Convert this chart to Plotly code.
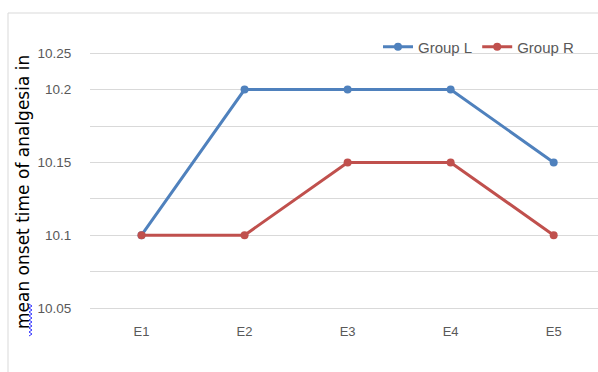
import plotly.graph_objects as go

categories = ["E1", "E2", "E3", "E4", "E5"]
group_l = [10.1, 10.2, 10.2, 10.2, 10.15]
group_r = [10.1, 10.1, 10.15, 10.15, 10.1]
grid_vals = [10.05, 10.075, 10.1, 10.125, 10.15, 10.175, 10.2, 10.225]
grid_text = ["10.05", "", "10.1", "", "10.15", "", "10.2", "10.25"]

W, H = 598, 372
L, R, T, B = 90, 0, 13, 64
pw, ph = W - L - R, H - T - B

def px(x):
    return (x - L) / pw

def py(y):
    return (H - B - y) / ph

fig = go.Figure()
fig.add_trace(go.Scatter(x=categories, y=group_l, name="Group L", mode="lines+markers",
                         line=dict(color="#4F81BD", width=3), marker=dict(size=8, color="#4F81BD")))
fig.add_trace(go.Scatter(x=categories, y=group_r, name="Group R", mode="lines+markers",
                         line=dict(color="#C0504D", width=3), marker=dict(size=8, color="#C0504D")))

fig.update_layout(
    width=W, height=H,
    margin=dict(l=L, r=R, t=T, b=B),
    paper_bgcolor="white", plot_bgcolor="white",
    font=dict(family="Liberation Sans, Arial", color="#595959", size=13),
    xaxis=dict(range=[-0.5, 4.43], showgrid=False, zeroline=False, showline=True,
               linecolor="#D9D9D9", linewidth=1, ticks="outside", ticklen=11,
               tickcolor="rgba(0,0,0,0)", tickfont=dict(size=13, color="#595959")),
    yaxis=dict(range=[10.05, 10.05 + ph / 36.4 * 0.025], tickmode="array",
               tickvals=grid_vals, ticktext=grid_text, showgrid=True, gridcolor="#D9D9D9",
               gridwidth=1, zeroline=False, showline=False, ticks="outside", ticklen=15,
               tickcolor="rgba(0,0,0,0)", tickfont=dict(size=13.5, color="#595959")),
    legend=dict(orientation="h", x=px(378), y=py(47), xanchor="left", yanchor="middle",
                bgcolor="rgba(0,0,0,0)", font=dict(size=15, color="#595959"),
                itemwidth=30, tracegroupgap=0),
    showlegend=True,
)

fig.add_shape(type="rect", xref="paper", yref="paper",
              x0=px(8), x1=px(620), y0=py(380), y1=py(13),
              line=dict(color="#D9D9D9", width=1), layer="below")

fig.add_annotation(text="mean onset time of analgesia in", xref="paper", yref="paper",
                   x=px(23), y=py(192), xanchor="center", yanchor="middle",
                   textangle=-90, showarrow=False,
                   font=dict(size=17, color="#000000", family="DejaVu Sans"))

# spell-check squiggle under "mean"
pts = []
yy = 336
i = 0
while yy > 302:
    xx = 29 if i % 2 == 0 else 32
    pts.append((px(xx), py(yy)))
    yy -= 2
    i += 1
path = "M " + " L ".join(f"{a},{b}" for a, b in pts)
fig.add_shape(type="path", xref="paper", yref="paper", path=path,
              line=dict(color="#3333FF", width=1))

fig.write_html("out.html")
